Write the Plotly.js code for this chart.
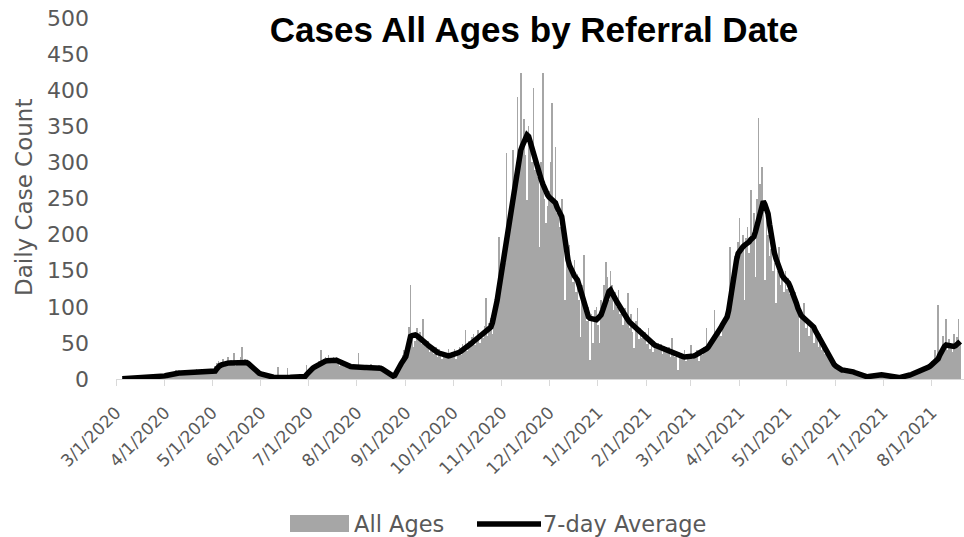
<!DOCTYPE html>
<html>
<head>
<meta charset="utf-8">
<script src="https://cdn.plot.ly/plotly-3.0.1.min.js"></script>
<style>html,body{margin:0;padding:0;background:#fff;}#chart{width:964px;height:537px;}</style>
</head>
<body>
<div id="chart"></div>
<script>
// First day with data
const startDate = [2020, 2, 5]; // 2020-03-05 (year, monthIndex, day)

// Daily case counts (All Ages), one value per day from 2020-03-05
const cases = [
  // Mar 2020 (5-31)
  1,0,1,0,1,1,2,1,1,0,2,1,1,2,3,1,2,4,3,2,5,3,4,6,2,4,
  // Apr 2020
  5,7,6,9,4,8,10,9,12,6,8,11,7,9,13,5,8,10,9,12,11,14,7,11,13,9,12,8,14,10,
  // May 2020
  12,8,14,18,22,25,14,20,28,17,24,30,19,26,21,36,18,25,22,30,45,20,28,24,19,15,20,12,10,8,11,
  // Jun 2020
  6,9,5,4,7,3,5,2,4,1,3,2,17,1,3,2,1,2,15,3,2,4,1,3,2,5,3,2,4,6,
  // Jul 2020
  19,8,12,16,14,20,18,22,25,40,20,28,30,24,33,27,22,30,25,31,22,18,26,20,17,24,16,19,21,14,18,
  // Aug 2020
  14,18,36,15,20,13,17,19,12,16,21,14,18,13,16,20,11,15,9,13,8,10,6,4,2,7,11,15,20,25,33,
  // Sep 2020
  40,28,55,72,130,60,45,52,70,58,65,48,83,50,44,52,38,46,40,35,44,30,41,36,28,38,32,30,41,34,
  // Oct 2020
  38,30,42,28,36,45,33,48,41,68,39,52,44,58,63,47,55,68,50,62,57,74,112,60,78,85,62,95,88,100,197,
  // Nov 2020
  150,140,175,160,313,200,230,240,317,260,280,390,300,424,330,360,310,248,350,320,300,403,290,310,280,183,300,424,250,216,
  // Dec 2020
  240,260,300,382,250,322,230,240,210,250,200,109,170,160,185,150,135,165,120,145,110,58,130,172,95,80,100,26,90,50,95,
  // Jan 2021
  100,75,50,110,95,130,162,141,110,150,130,95,120,100,123,90,100,75,98,85,119,70,90,65,43,80,98,55,70,57,60,
  // Feb 2021
  65,48,70,42,55,38,52,45,50,40,48,35,46,44,38,45,30,57,36,30,38,12,33,35,28,40,25,33,
  // Mar 2021
  35,47,28,36,30,40,25,38,33,45,40,70,42,52,48,58,96,55,65,72,60,80,75,90,85,100,183,120,150,170,160,
  // Apr 2021
  190,223,180,200,109,195,210,175,262,200,230,141,250,361,270,294,240,137,220,200,170,180,150,160,105,150,183,130,140,120,
  // May 2021
  150,125,140,118,130,110,120,95,100,38,90,85,105,70,85,60,80,75,50,70,58,45,62,40,48,35,42,30,25,28,20,
  // Jun 2021
  18,22,12,15,10,14,11,13,15,9,12,8,10,7,9,5,8,4,3,5,2,4,3,6,4,7,5,6,8,5,
  // Jul 2021
  7,4,6,3,5,2,3,1,2,3,1,2,4,2,5,3,6,4,8,5,9,7,10,12,9,14,11,16,13,18,15,
  // Aug 2021 (1-20)
  20,25,18,40,30,102,35,45,60,50,83,40,55,48,38,62,45,58,83,50
];

// 7-day average, one value per day from 2020-03-05
const avg7 = [
  // Mar 2020 (5-31)
  0.3,0.4,0.5,0.5,0.6,0.7,0.8,0.9,1.0,1.0,1.1,1.1,1.2,1.3,1.4,1.5,1.7,2.0,2.3,2.6,2.9,3.0,3.1,3.2,3.3,3.5,
  // Apr 2020
  3.8,4.3,4.9,5.5,6.1,6.7,7.2,7.6,8.0,8.1,8.2,8.2,8.3,8.3,8.4,8.5,8.5,8.6,8.7,9.0,9.5,9.8,10,10.1,10.1,10.2,10.2,10.3,10.3,10.4,
  // May 2020
  10.4,10.5,10.6,11,14,17,18.5,19.5,20.5,21,21.5,22,22.3,22.5,22.8,23,23.2,23.4,23.6,23.8,24,23.8,23.4,22.7,21.5,19.5,17,14.5,12,10.5,9,
  // Jun 2020
  7.8,7,6.2,5.6,5,4.3,3.7,3.2,2.8,2.5,2.2,2.0,1.9,1.9,1.8,1.8,1.9,2.0,2.1,2.2,2.3,2.4,2.5,2.6,2.7,2.8,2.9,3.0,3.0,3.5,
  // Jul 2020
  6,9,11,13,15,16.5,18,19.5,21,22,23,24,24.8,25.3,25.7,26,26.2,26.2,26.1,26,25,23.8,22.5,21.2,20,19,18.3,17.7,17.2,16.8,16.5,
  // Aug 2020
  16.3,16,16,16.1,16.1,16,16,16,16,16,15.9,15.8,15.7,15.5,15.3,15.1,15,14,12.8,11.5,10,8.5,7,5.5,4,5,8,12,17,21,25,
  // Sep 2020
  28,31,40,50,59,60,61,61,60,58.5,57,55,53,51,49,47,45,43,41,39.5,38,37,36,35,34,33.5,33,32,32,32.5,
  // Oct 2020
  33,33.5,34,34.5,35.5,37,38.5,40,41,42,44,46,48,50,52,54,56,57.5,59,61,63,65,67,69,70.5,72,78,86,96,109,123,
  // Nov 2020
  137,151,165,180,195,210,225,237,248,260,271,287,302,317,323,328,333,338,336,328,318,310,303,296,289,282,276,270,264,258,
  // Dec 2020
  255,252,250,249,248,244,238,232,228,225,210,190,174,165,157,151,147,143,140,137,130,122,115,109,101,93,86,84,83,82,82,
  // Jan 2021
  82,84,86,89,95,102,109,116,121,123,120,115,111,107,103,100,96,91,88,85,82,79,77,75,73,71,69,67,65,63,61,
  // Feb 2021
  59,57,54,51,49,48,47,46,45,44,43.5,43,42.5,42,41,39.5,38,36.5,35,34,33,32,31.5,31,31,30.5,30.5,30.5,
  // Mar 2021
  30.5,31,31.5,32,33,34,35,36,37.5,39,40,42,44,47,50,53,56,60,63,67,71,75,79,83,86,95,110,128,146,156,165,
  // Apr 2021
  174,178,181,183,185,186,188,190,193,195,197,204,212,220,229,238,246,242,236,229,214,198,183,175,167,160,153,146,143,140,
  // May 2021
  138,137,133,128,123,119,112,105,98,91,88,86,84,82,80,78,76,74,72,67,63,58,54,49,45,41,37,33,29,25,22,
  // Jun 2021
  20,18,16,14,13,12.5,12.3,12.1,12,12,12,11,10,9,8,7,6,5,4,3.5,3,3,3.5,4,4.5,5,5.5,6,6,6,
  // Jul 2021
  5.8,5.5,5,4.5,4,3.5,3,2.6,2.3,2.1,2,2,2.2,2.5,3,3.5,4,4.8,5.5,6.2,7,8,9,10,11,12,12.8,13.5,14.2,15,16.5,
  // Aug 2021 (1-20)
  18,20,21.5,23,24,28,33,38,42,45,47,46.5,46,45.5,45,45,46,48,50,52
];

// Axis ticks (first of each month)
const tickDates = ['2020-03-01','2020-04-01','2020-05-01','2020-06-01','2020-07-01','2020-08-01','2020-09-01','2020-10-01','2020-11-01','2020-12-01','2021-01-01','2021-02-01','2021-03-01','2021-04-01','2021-05-01','2021-06-01','2021-07-01','2021-08-01'];
const tickLabels = ['3/1/2020','4/1/2020','5/1/2020','6/1/2020','7/1/2020','8/1/2020','9/1/2020','10/1/2020','11/1/2020','12/1/2020','1/1/2021','2/1/2021','3/1/2021','4/1/2021','5/1/2021','6/1/2021','7/1/2021','8/1/2021'];

const dates = cases.map((_, i) => new Date(Date.UTC(startDate[0], startDate[1], startDate[2] + i)).toISOString().slice(0, 10));

const W = 964, H = 537, L = 116, T = 18, B = 158, R = 0;
const pw = W - L - R, ph = H - T - B;
const px = x => (x - L) / pw;
const py = y => (H - B - y) / ph;

const tickFontY = {family: 'DejaVu Sans', size: 22, color: '#595959'};
const legendFont = {family: 'DejaVu Sans', size: 22.5, color: '#595959'};

const traces = [
  {type: 'bar', name: 'All Ages', x: dates, y: cases,
   marker: {color: '#A6A6A6', line: {width: 0}}, hoverinfo: 'x+y'},
  {type: 'scatter', mode: 'lines', name: '7-day Average', x: dates, y: avg7,
   line: {color: '#000000', width: 5.5}}
];

const layout = {
  width: W, height: H,
  margin: {l: L, r: R, t: T, b: B},
  paper_bgcolor: '#ffffff', plot_bgcolor: '#ffffff',
  showlegend: false,
  bargap: 0,
  title: {text: '<b>Cases All Ages by Referral Date</b>',
          font: {family: 'Liberation Sans, Arial, sans-serif', size: 35, color: '#000000'},
          x: 534 / W, xanchor: 'center', xref: 'container',
          y: 1 - 30 / H, yanchor: 'middle', yref: 'container'},
  xaxis: {type: 'date', range: ['2020-03-01', '2021-08-21 10:00'],
          showgrid: false, zeroline: false,
          showline: true, linecolor: '#D9D9D9', linewidth: 1,
          ticks: 'outside', ticklen: 6, tickcolor: '#D9D9D9', tickwidth: 1,
          tickmode: 'array', tickvals: tickDates, ticktext: tickLabels,
          tickangle: -45, ticklabelstandoff: 10,
          tickfont: {family: 'DejaVu Sans', size: 17, color: '#595959'}},
  yaxis: {range: [0, 500], tick0: 0, dtick: 50,
          showgrid: false, zeroline: false, showline: false, ticks: '',
          ticklabelstandoff: 26,
          tickfont: tickFontY},
  annotations: [
    {text: 'Daily Case Count', textangle: -90, showarrow: false,
     xref: 'paper', yref: 'paper', x: px(24), y: py(198), xanchor: 'center', yanchor: 'middle',
     font: {family: 'DejaVu Sans', size: 23, color: '#595959'}},
    {text: 'All Ages', showarrow: false, xref: 'paper', yref: 'paper',
     x: px(352), y: py(524), xanchor: 'left', yanchor: 'middle', font: legendFont},
    {text: '7-day Average', showarrow: false, xref: 'paper', yref: 'paper',
     x: px(541), y: py(524), xanchor: 'left', yanchor: 'middle', font: legendFont}
  ],
  shapes: [
    {type: 'rect', xref: 'paper', yref: 'paper', x0: px(290), x1: px(349), y0: py(532), y1: py(515),
     fillcolor: '#A6A6A6', line: {width: 0}},
    {type: 'line', xref: 'paper', yref: 'paper', x0: px(477), x1: px(541), y0: py(524), y1: py(524),
     line: {color: '#000000', width: 5.5}}
  ]
};

Plotly.newPlot('chart', traces, layout, {displayModeBar: false, staticPlot: true});
</script>
</body>
</html>
